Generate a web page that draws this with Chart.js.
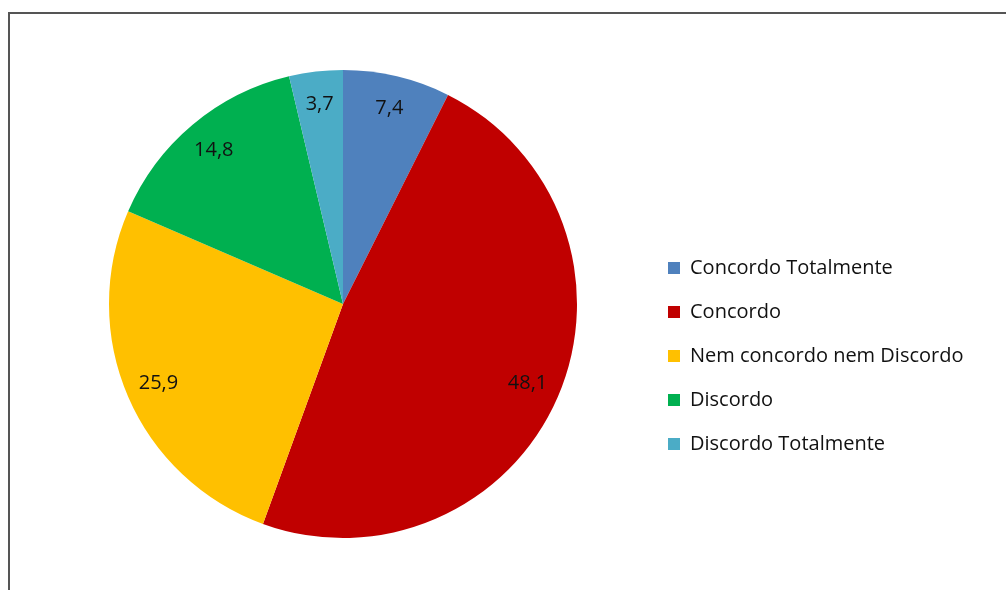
<!DOCTYPE html>
<html>
<head>
<meta charset="utf-8">
<script src="https://cdn.jsdelivr.net/npm/chart.js@4.4.0/dist/chart.umd.min.js"></script>
<style>
  html, body { margin: 0; padding: 0; background: #fff; overflow: hidden; }
  #frame {
    position: absolute; left: 8px; top: 12px; width: 1100px; height: 700px;
    border-top: 2px solid #555; border-left: 2px solid #555;
  }
  #wrap { position: absolute; left: 0; top: 0; width: 1006px; height: 590px; }
</style>
</head>
<body>
<div id="frame"></div>
<div id="wrap"><canvas id="myPie" width="1006" height="590"></canvas></div>
<script>
// answers and their share (%)
const categories = [
  "Concordo Totalmente",
  "Concordo",
  "Nem concordo nem Discordo",
  "Discordo",
  "Discordo Totalmente",
];
const percentages = [7.4, 48.1, 25.9, 14.8, 3.7];
const sliceColors = ["#4F81BD", "#C00000", "#FFC000", "#00B050", "#4BACC6"];

const fontFamily = "'Open Sans', 'Noto Sans', sans-serif";
const legendFontSize = 20;
const legendPadding = 24;
const boxSize = 12;

// work out how wide the legend gets so the pie lands in the right place
const measure = document.createElement("canvas").getContext("2d");
measure.font = legendFontSize + "px " + fontFamily;
let widest = 0;
categories.forEach((c) => { widest = Math.max(widest, measure.measureText(c).width); });
const legendWidth = legendPadding + boxSize + legendFontSize / 2 + widest + 10;
const legendLeft = 644;
const rightPad = Math.max(0, 1006 - legendLeft - legendWidth);

// value labels inside each slice, near the rim
const sliceLabels = {
  id: "sliceLabels",
  afterDatasetsDraw(chart) {
    const ctx = chart.ctx;
    const meta = chart.getDatasetMeta(0);
    ctx.save();
    ctx.font = "20px " + fontFamily;
    ctx.fillStyle = "#111";
    ctx.textAlign = "center";
    ctx.textBaseline = "middle";
    meta.data.forEach((arc, i) => {
      const p = arc.getProps(["x", "y", "startAngle", "endAngle", "outerRadius"], true);
      const mid = (p.startAngle + p.endAngle) / 2;
      const r = p.outerRadius - 33;
      const text = percentages[i].toFixed(1).replace(".", ",");
      ctx.fillText(text, p.x + Math.cos(mid) * r, p.y + Math.sin(mid) * r);
    });
    ctx.restore();
  },
};

new Chart(document.getElementById("myPie"), {
  type: "pie",
  data: {
    labels: categories,
    datasets: [
      {
        data: percentages,
        backgroundColor: sliceColors,
        borderWidth: 0,
      },
    ],
  },
  options: {
    responsive: false,
    animation: false,
    layout: { padding: { left: 42, top: 70, bottom: 52, right: rightPad } },
    plugins: {
      tooltip: { enabled: false },
      legend: {
        position: "right",
        title: { display: true, text: "", font: { size: 1 }, padding: { top: 103, bottom: 0 } },
        labels: {
          boxWidth: boxSize,
          boxHeight: boxSize,
          padding: legendPadding,
          color: "#111",
          font: { family: fontFamily, size: legendFontSize },
        },
      },
    },
  },
  plugins: [sliceLabels],
});
</script>
</body>
</html>
